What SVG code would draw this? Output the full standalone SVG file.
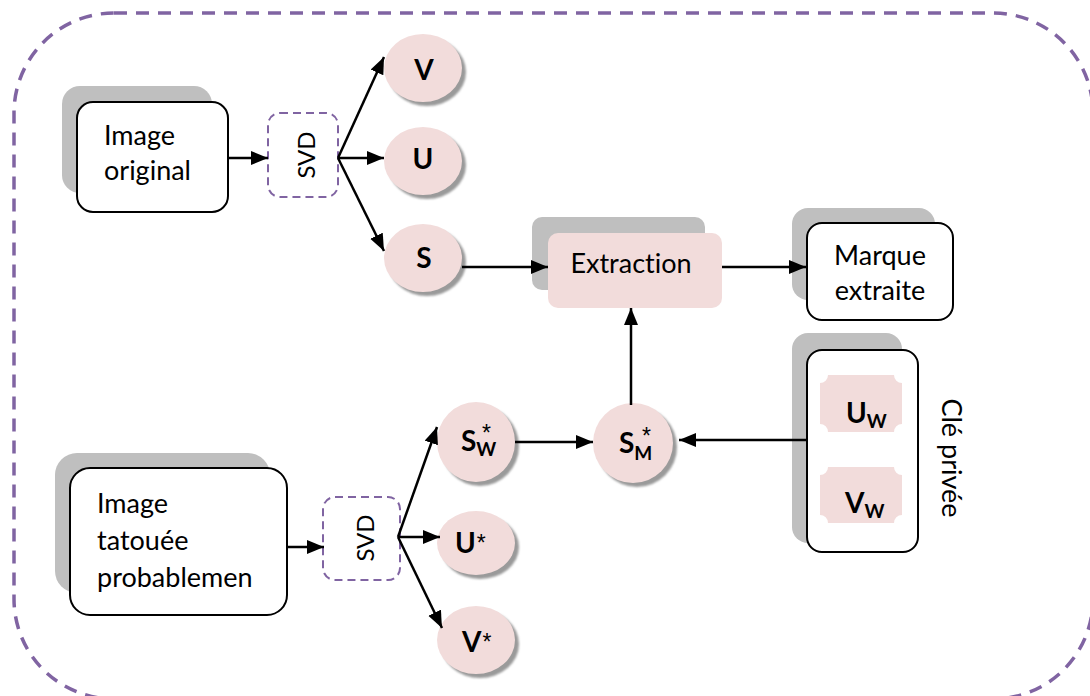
<svg xmlns="http://www.w3.org/2000/svg" width="1090" height="696" viewBox="0 0 1090 696">
  <defs>
    <style>
      .frame { fill: none; stroke: #8064A2; stroke-width: 3.5; stroke-dasharray: 13 9; }
      .svd { fill: #fff; stroke: #8064A2; stroke-width: 2; stroke-dasharray: 8 5; }
      .shadow { fill: #BFBFBF; }
      .box { fill: #fff; stroke: #000; stroke-width: 2; }
      .pink { fill: #F2DCDB; }
      .cshadow { fill: #9A9A9A; filter: url(#soft); }
      text { font-family: Lato, "Liberation Sans", sans-serif; font-variant-ligatures: none; fill: #000; }
      .t { font-size: 27px; }
      .svdt { font-size: 24px; }
      .b { font-size: 28px; font-weight: bold; }
      .sub { font-size: 19px; font-weight: bold; }
      .ast { font-family: "Liberation Sans", sans-serif; font-size: 23px; font-weight: normal; }
      .link { fill: none; stroke: #000; stroke-width: 2.5; marker-end: url(#arrow); }
    </style>
    <filter id="soft" x="-20%" y="-20%" width="140%" height="140%">
      <feGaussianBlur stdDeviation="1"/>
    </filter>
    <marker id="arrow" markerUnits="userSpaceOnUse" markerWidth="18" markerHeight="16" refX="17" refY="7" orient="auto">
      <path d="M0,0 L17,7 L0,14 Z" fill="#000"/>
    </marker>
  </defs>

  <!-- outer dashed frame -->
  <rect class="frame" x="14" y="13" width="1079" height="686" rx="100"/>

  <!-- Image original -->
  <g id="image-original">
    <rect class="shadow" x="62" y="86" width="150" height="107" rx="18"/>
    <rect class="box" x="77" y="102" width="151" height="110" rx="16"/>
    <text class="t" x="104" y="145">Image</text>
    <text class="t" x="104" y="180">original</text>
  </g>

  <!-- SVD (top) -->
  <g id="svd-top">
    <rect class="svd" x="268" y="113" width="70" height="84" rx="12"/>
    <text class="svdt" transform="translate(315,155) rotate(-90)" text-anchor="middle">SVD</text>
  </g>

  <!-- V, U, S -->
  <g id="node-v">
    <ellipse class="cshadow" cx="427" cy="72" rx="39" ry="34"/>
    <ellipse class="pink" cx="423" cy="68" rx="39" ry="34"/>
    <text class="b" x="424" y="80" text-anchor="middle">V</text>
  </g>
  <g id="node-u">
    <ellipse class="cshadow" cx="427" cy="165" rx="39" ry="34"/>
    <ellipse class="pink" cx="423" cy="161" rx="39" ry="34"/>
    <text class="b" x="423" y="169" text-anchor="middle">U</text>
  </g>
  <g id="node-s">
    <ellipse class="cshadow" cx="427" cy="262" rx="39" ry="34"/>
    <ellipse class="pink" cx="423" cy="258" rx="39" ry="34"/>
    <text class="b" x="424" y="268" text-anchor="middle">S</text>
  </g>

  <!-- Extraction -->
  <g id="extraction">
    <rect class="shadow" x="532" y="217" width="173" height="73" rx="10"/>
    <rect class="pink" x="548" y="233" width="174" height="75" rx="10"/>
    <text class="t" x="631" y="273" text-anchor="middle">Extraction</text>
  </g>

  <!-- Marque extraite -->
  <g id="marque-extraite">
    <rect class="shadow" x="792" y="208" width="143" height="92" rx="16"/>
    <rect class="box" x="807" y="223" width="146" height="97" rx="15"/>
    <text class="t" x="880" y="265" text-anchor="middle">Marque</text>
    <text class="t" x="880" y="300" text-anchor="middle">extraite</text>
  </g>

  <!-- Clé privée -->
  <g id="cle-privee">
    <rect class="shadow" x="792" y="333" width="110" height="210" rx="16"/>
    <rect class="box" x="807" y="350" width="111" height="202" rx="15"/>
    <path class="pink" d="M828,375 H894 A8,8 0 0 0 902,383 V424 A8,8 0 0 0 894,432 H828 A8,8 0 0 0 820,424 V383 A8,8 0 0 0 828,375 Z"/>
    <text class="b" x="846" y="423">U<tspan class="sub" dy="5">W</tspan></text>
    <path class="pink" d="M828,467 H894 A8,8 0 0 0 902,475 V515 A8,8 0 0 0 894,523 H828 A8,8 0 0 0 820,515 V475 A8,8 0 0 0 828,467 Z"/>
    <text class="b" x="845" y="513">V<tspan class="sub" dy="5">W</tspan></text>
    <text class="t" transform="translate(942,458) rotate(90)" text-anchor="middle">Clé privée</text>
  </g>

  <!-- S*M -->
  <g id="node-sm">
    <ellipse class="cshadow" cx="637" cy="447" rx="40" ry="40"/>
    <ellipse class="pink" cx="633" cy="443" rx="40" ry="40"/>
    <text class="b" x="619" y="453">S<tspan class="sub" dy="7">M</tspan><tspan class="ast" x="642" dy="-16">*</tspan></text>
  </g>

  <!-- Image tatouée probablemen -->
  <g id="image-tatouee">
    <rect class="shadow" x="55" y="453" width="215" height="140" rx="22"/>
    <rect class="box" x="70" y="468" width="217" height="147" rx="20"/>
    <text class="t" x="97" y="513">Image</text>
    <text class="t" x="97" y="550">tatouée</text>
    <text class="t" x="97" y="587">probablemen</text>
  </g>

  <!-- SVD (bottom) -->
  <g id="svd-bottom">
    <rect class="svd" x="323" y="497" width="77" height="83" rx="12"/>
    <text class="svdt" transform="translate(374,538) rotate(-90)" text-anchor="middle">SVD</text>
  </g>

  <!-- S*W, U*, V* -->
  <g id="node-sw">
    <ellipse class="cshadow" cx="480" cy="446" rx="39" ry="40"/>
    <ellipse class="pink" cx="476" cy="442" rx="39" ry="40"/>
    <text class="b" x="461" y="451">S<tspan class="sub" dy="5">W</tspan><tspan class="ast" x="482" dy="-15">*</tspan></text>
  </g>
  <g id="node-u-star">
    <ellipse class="cshadow" cx="480" cy="547" rx="39" ry="32"/>
    <ellipse class="pink" cx="476" cy="543" rx="39" ry="32"/>
    <text class="b" x="455" y="553">U<tspan class="ast" dx="1" dy="-2">*</tspan></text>
  </g>
  <g id="node-v-star">
    <ellipse class="cshadow" cx="480" cy="644" rx="39" ry="34"/>
    <ellipse class="pink" cx="476" cy="640" rx="39" ry="34"/>
    <text class="b" x="462" y="652">V<tspan class="ast" dx="1" dy="-2">*</tspan></text>
  </g>

  <!-- connectors -->
  <g id="connectors">
    <path class="link" d="M228,158 L268,158"/>
    <path class="link" d="M338,158 L384,57"/>
    <path class="link" d="M338,158 L384,158"/>
    <path class="link" d="M338,158 L384,251"/>
    <path class="link" d="M462,267 L548,267"/>
    <path class="link" d="M722,267 L806,267"/>
    <path class="link" d="M807,440 L679,440"/>
    <path class="link" d="M631,405 L631,308"/>
    <path class="link" d="M515,442 L593,442"/>
    <path class="link" d="M287,547 L324,547"/>
    <path class="link" d="M398,537 L437,427"/>
    <path class="link" d="M398,537 L440,537"/>
    <path class="link" d="M398,537 L442,628"/>
  </g>
</svg>
